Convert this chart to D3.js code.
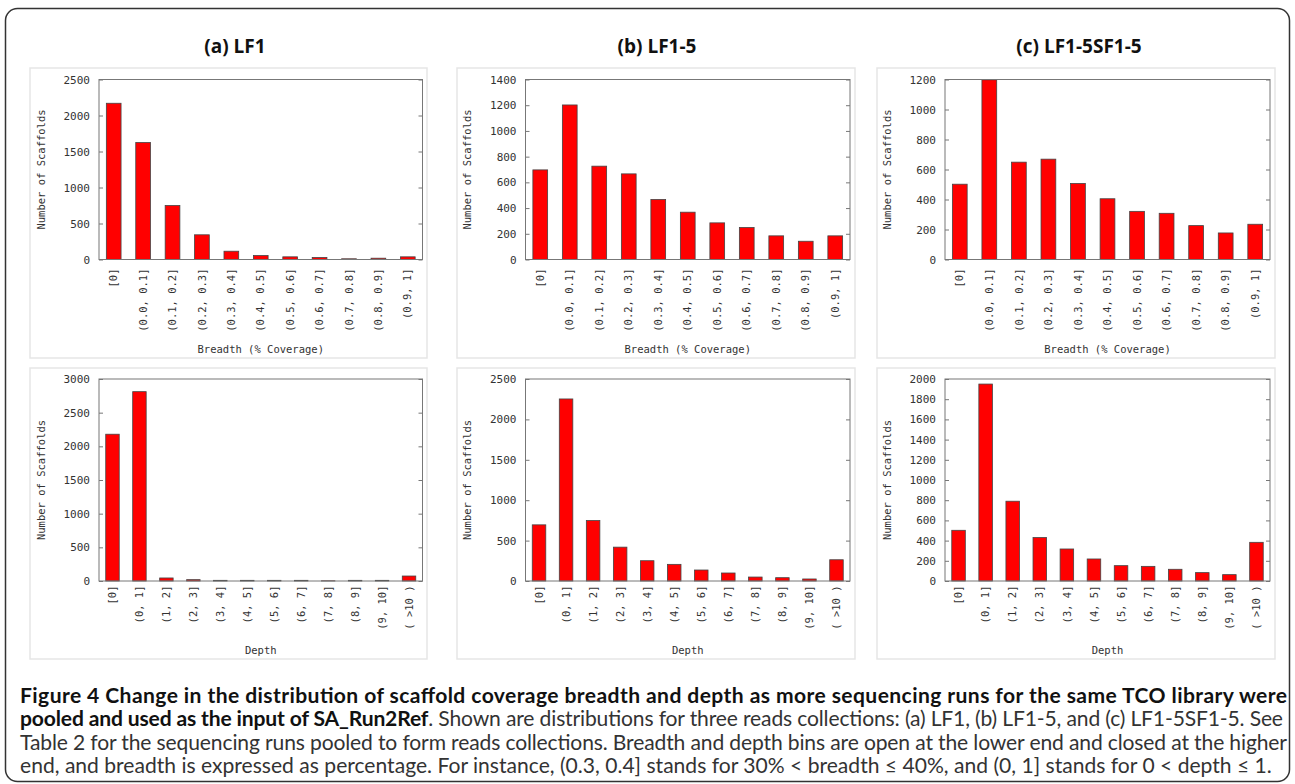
<!DOCTYPE html>
<html>
<head>
<meta charset="utf-8">
<script src="https://cdn.jsdelivr.net/npm/d3@7"></script>
<style>
  body { margin: 0; background: #fff; }
  svg { display: block; }
</style>
</head>
<body>
<svg id="fig" width="1295" height="784"></svg>
<script>
// bins
const breadthBins = ['[0]', '(0.0, 0.1]', '(0.1, 0.2]', '(0.2, 0.3]', '(0.3, 0.4]', '(0.4, 0.5]',
  '(0.5, 0.6]', '(0.6, 0.7]', '(0.7, 0.8]', '(0.8, 0.9]', '(0.9, 1]'];
const depthBins = ['[0]', '(0, 1]', '(1, 2]', '(2, 3]', '(3, 4]', '(4, 5]', '(5, 6]',
  '(6, 7]', '(7, 8]', '(8, 9]', '(9, 10]', '( >10 )'];

// number of scaffolds per bin
const breadthLF1 = [2170, 1625, 750, 343, 115, 55, 37, 28, 10, 18, 37];
const breadthLF15 = [697, 1202, 726, 666, 467, 368, 285, 249, 184, 142, 184];
const breadthLF15SF15 = [502, 1198, 649, 669, 507, 405, 321, 308, 226, 177, 235];
const depthLF1 = [2180, 2812, 45, 20, 10, 10, 10, 10, 3, 10, 10, 74];
const depthLF15 = [695, 2253, 748, 419, 251, 206, 136, 99, 49, 41, 25, 263];
const depthLF15SF15 = [502, 1950, 790, 430, 317, 218, 152, 145, 116, 83, 63, 383];

const panelTitles = ['(a) LF1', '(b) LF1-5', '(c) LF1-5SF1-5'];
const breadthYMax = [2500, 1400, 1200];
const breadthYStep = [500, 200, 200];
const depthYMax = [3000, 2500, 2000];
const depthYStep = [500, 500, 200];

const svg = d3.select('#fig');
const mono = '"DejaVu Sans Mono", monospace';

// outer rounded box
svg.append('rect')
  .attr('x', 5.5).attr('y', 8.5)
  .attr('width', 1284).attr('height', 773)
  .attr('rx', 12)
  .attr('fill', '#fff')
  .attr('stroke', '#333')
  .attr('stroke-width', 1.5);

// layout
const cols = [
  { bg0: 30, bg1: 427, x0: 99, x1: 422.5, title: 235 },
  { bg0: 457, bg1: 855, x0: 525.5, x1: 850, title: 657 },
  { bg0: 877, bg1: 1275, x0: 945, x1: 1270, title: 1079 }
];
const rows = [
  { bg0: 68, bg1: 358, y0: 79.5, y1: 259.5, labelGap: 9, xTitle: 'Breadth (% Coverage)', xTitleY: 353,
    bins: breadthBins, series: [breadthLF1, breadthLF15, breadthLF15SF15], yMax: breadthYMax, yStep: breadthYStep },
  { bg0: 368, bg1: 659, y0: 379, y1: 581, labelGap: 4.5, xTitle: 'Depth', xTitleY: 654,
    bins: depthBins, series: [depthLF1, depthLF15, depthLF15SF15], yMax: depthYMax, yStep: depthYStep }
];

// column titles
cols.forEach((c, i) => {
  svg.append('text')
    .attr('x', c.title)
    .attr('y', 53)
    .attr('text-anchor', 'middle')
    .attr('font-family', '"Open Sans", sans-serif')
    .attr('font-weight', 'bold')
    .attr('font-size', '19px')
    .attr('fill', '#111')
    .text(panelTitles[i]);
});

rows.forEach(r => {
  cols.forEach((c, i) => {
    const g = svg.append('g');
    const values = r.series[i];

    // panel background
    g.append('rect')
      .attr('x', c.bg0).attr('y', r.bg0)
      .attr('width', c.bg1 - c.bg0).attr('height', r.bg1 - r.bg0)
      .attr('fill', '#fff')
      .attr('stroke', '#e6e6e6')
      .attr('stroke-width', 1.5);

    const x = d3.scaleBand()
      .domain(r.bins)
      .range([c.x0, c.x1])
      .paddingInner(0.5)
      .paddingOuter(0.25);

    const y = d3.scaleLinear()
      .domain([0, r.yMax[i]])
      .range([r.y1, r.y0]);

    const ticks = d3.range(0, r.yMax[i] + 1, r.yStep[i]);

    // bars
    g.selectAll('rect.bar')
      .data(values)
      .join('rect')
      .attr('class', 'bar')
      .attr('x', (d, k) => x(r.bins[k]))
      .attr('y', d => y(d))
      .attr('width', x.bandwidth())
      .attr('height', d => y(0) - y(d))
      .attr('fill', '#ff0000')
      .attr('stroke', '#444')
      .attr('stroke-width', 0.8);

    // left axis, ticks point inward
    const left = g.append('g')
      .attr('transform', `translate(${c.x0},0)`)
      .call(d3.axisLeft(y).tickValues(ticks).tickFormat(d3.format('d')).tickSize(-4).tickPadding(9));
    left.select('.domain').remove();
    left.selectAll('line').attr('stroke', '#777');
    left.selectAll('text')
      .attr('font-family', mono)
      .attr('font-size', '11px')
      .attr('fill', '#333');

    // mirrored ticks on the right
    const right = g.append('g')
      .attr('transform', `translate(${c.x1},0)`)
      .call(d3.axisRight(y).tickValues(ticks).tickSize(-4).tickFormat(''));
    right.select('.domain').remove();
    right.selectAll('line').attr('stroke', '#777');

    // bottom labels, rotated
    const bottom = g.append('g')
      .attr('transform', `translate(0,${r.y1})`)
      .call(d3.axisBottom(x).tickSize(0));
    bottom.select('.domain').remove();
    bottom.selectAll('text')
      .attr('transform', 'rotate(-90)')
      .attr('text-anchor', 'end')
      .attr('x', -r.labelGap)
      .attr('y', 0)
      .attr('dy', '0.35em')
      .attr('font-family', mono)
      .attr('font-size', '10.5px')
      .attr('fill', '#333');

    // frame
    g.append('rect')
      .attr('x', c.x0).attr('y', r.y0)
      .attr('width', c.x1 - c.x0).attr('height', r.y1 - r.y0)
      .attr('fill', 'none')
      .attr('stroke', '#777')
      .attr('stroke-width', 1);

    // axis titles
    g.append('text')
      .attr('transform', `translate(${c.x0 - 58},${(r.y0 + r.y1) / 2}) rotate(-90)`)
      .attr('text-anchor', 'middle')
      .attr('dy', '0.35em')
      .attr('font-family', mono)
      .attr('font-size', '10.5px')
      .attr('fill', '#333')
      .text('Number of Scaffolds');

    g.append('text')
      .attr('x', (c.x0 + c.x1) / 2)
      .attr('y', r.xTitleY)
      .attr('text-anchor', 'middle')
      .attr('font-family', mono)
      .attr('font-size', '10.5px')
      .attr('fill', '#333')
      .text(r.xTitle);
  });
});

// caption
const captionLines = [
  { y: 703, len: 1267, parts: [
    ['b', 'Figure 4 Change in the distribution of scaffold coverage breadth and depth as more sequencing runs for the same TCO library were']] },
  { y: 726, len: 1263, parts: [
    ['b', 'pooled and used as the input of SA_Run2Ref'],
    ['r', '. Shown are distributions for three reads collections: (a) LF1, (b) LF1-5, and (c) LF1-5SF1-5. See']] },
  { y: 750, len: 1267, parts: [
    ['r', 'Table 2 for the sequencing runs pooled to form reads collections. Breadth and depth bins are open at the lower end and closed at the higher']] },
  { y: 773, len: null, parts: [
    ['r', 'end, and breadth is expressed as percentage. For instance, (0.3, 0.4] stands for 30% < breadth ≤ 40%, and (0, 1] stands for 0 < depth ≤ 1.']] }
];

const capTexts = captionLines.map(line => {
  const t = svg.append('text')
    .attr('x', 20)
    .attr('y', line.y)
    .attr('font-family', 'Lato, "Open Sans", sans-serif')
    .attr('font-size', '17px');
  line.parts.forEach(p => {
    t.append('tspan')
      .attr('font-weight', p[0] === 'b' ? 'bold' : 'normal')
      .attr('fill', p[0] === 'b' ? '#111' : '#333')
      .text(p[1]);
  });
  return t;
});

// fit the last (unjustified) line to its width, then justify the others
const lastW = capTexts[3].node().getComputedTextLength();
const capSize = 17 * 1253 / lastW;
capTexts.forEach((t, k) => {
  t.attr('font-size', capSize + 'px');
  if (captionLines[k].len) t.attr('textLength', captionLines[k].len).attr('lengthAdjust', 'spacing');
});
</script>
</body>
</html>
